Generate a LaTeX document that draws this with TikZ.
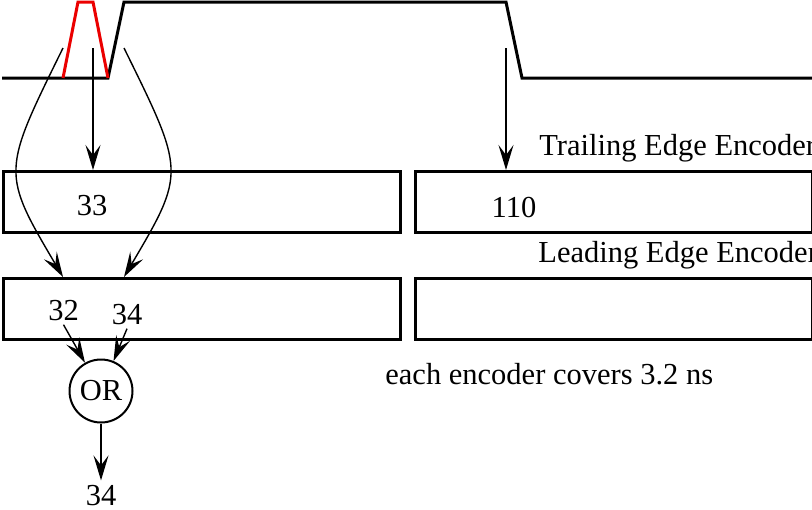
\documentclass[tikz,border=0pt]{standalone}
\usepackage{fontspec}
\setmainfont{Liberation Serif}
\usetikzlibrary{arrows.meta,positioning,calc}
\definecolor{hitred}{RGB}{235,0,0}

\begin{document}
\begin{tikzpicture}[x=0.5pt,y=-0.5pt,
    font=\fontsize{15.25}{18}\selectfont,
    sig/.style={line width=1.5pt},
    hit/.style={hitred, line width=1.5pt},
    enc/.style={draw, line width=1.3pt, minimum width=198.5pt, minimum height=30.5pt, inner sep=0pt, anchor=north west},
    lbl/.style={inner sep=2pt, anchor=base},
    txt/.style={inner sep=0pt, anchor=base west},
    tip/.style={-{Stealth[length=12.5pt,width=7.5pt,inset=5pt]}, line width=0.7pt}]
   \useasboundingbox (0,0) rectangle (812,509);
   \clip (0,0) rectangle (812,509);
   % signal and the hit
   \draw[sig] (2,78) -- (108,78) -- (124,2) -- (506,2) -- (522,78) -- (812,78);
   \draw[hit] (63,78) -- (78,2) -- (93,2) -- (108,78);
   % encoders
   \node[enc] (tbox1) at (2,170) {};
   \node[enc] (tbox2) at (414,170) {};
   \node[enc] (lbox1) at (2,277) {};
   \node[enc] (lbox2) at (414,277) {};
   \node[txt] (tcap) at (539,155) {Trailing Edge Encoder};
   \node[txt] (lcap) at (538,262) {Leading Edge Encoder};
   \node[txt] (note) at (385,384) {each encoder covers 3.2 ns};
   \node[lbl] (n33) at (92,215) {33};
   \node[lbl] (n110) at (514,217) {110};
   \node[lbl] (n32) at (63.5,320) {32};
   \node[lbl] (n34) at (127,324) {34};
   \node[draw, circle, line width=1pt, minimum size=31.5pt, inner sep=0pt] (or) at (101,391) {OR};
   \node[lbl] (out) at (101,505) {34};
   % arrows
   \coordinate (tl) at (63,48);
   \coordinate (tc) at (93,48);
   \coordinate (tr) at (124,48);
   \coordinate (tt) at (506,48);
   \draw[tip] (tc) -- (93,0 |- tbox1.north);
   \draw[tip] (tt) -- (506,0 |- tbox2.north);
   \draw[tip] (tl) .. controls (2,172) and (1,172) .. (63,0 |- lbox1.north);
   \draw[tip] (tr) .. controls (185,172) and (186,172) .. (124,0 |- lbox1.north);
   \draw[tip] (n32.south) -- (or);
   \draw[tip] (n34.south) -- (or);
   \draw[tip] (or) -- (out);
  \end{tikzpicture}
\end{document}
